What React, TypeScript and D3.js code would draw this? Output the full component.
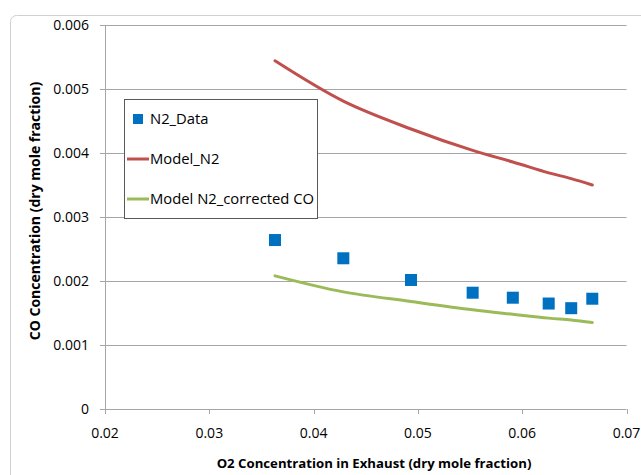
import React from "react";
import * as d3 from "d3";

const o2Values = [0.0363, 0.04285, 0.04934, 0.05525, 0.0591, 0.06254, 0.0647, 0.06672];
const n2Data = [0.00264, 0.002355, 0.002016, 0.001817, 0.001739, 0.001648, 0.001575, 0.001723];
const modelN2 = [0.00544, 0.00481, 0.004375, 0.00404, 0.00386, 0.00369, 0.0036, 0.0035];
const modelN2Corrected = [0.00208, 0.00183, 0.00168, 0.00155, 0.00148, 0.00142, 0.00139, 0.00135];
const xTicks = [0.02, 0.03, 0.04, 0.05, 0.06, 0.07];
const yTicks = [0, 0.001, 0.002, 0.003, 0.004, 0.005, 0.006];
const legendLabels = ["N2_Data", "Model_N2", "Model N2_corrected CO"];

const FONT = "'Open Sans', 'Liberation Sans', sans-serif";

export default function App() {
  const W = 641, H = 475;
  const x = d3.scaleLinear().domain([0.02, 0.07]).range([105, 626.5]);
  const y = d3.scaleLinear().domain([0, 0.006]).range([409, 25]);
  const line = d3.line<number>().x((_, i) => x(o2Values[i])).y((d) => y(d)).curve(d3.curveCatmullRom.alpha(0.5));
  const fmtX = (v: number) => v.toFixed(2);
  const fmtY = (v: number) => (v === 0 ? "0" : v.toFixed(3));
  return (
    <svg width={W} height={H} style={{ position: "absolute", left: 0, top: 0 }} fontFamily={FONT}>
      <rect x={0} y={0} width={W} height={H} fill="#fff" />
      <rect x={10.5} y={15.5} width={W + 20} height={H + 20} rx={6} fill="#fff" stroke="#d0d0d0" strokeWidth={1} />
      {yTicks.map((t) => (
        <line key={"g" + t} x1={x(0.02)} x2={x(0.07)} y1={Math.round(y(t)) + 0.5} y2={Math.round(y(t)) + 0.5} stroke="#a6a6a6" strokeWidth={1} />
      ))}
      <line x1={x(0.02) + 0.5} x2={x(0.02) + 0.5} y1={y(0.006)} y2={y(0)} stroke="#a6a6a6" />
      {yTicks.map((t) => (
        <g key={"yt" + t}>
          <line x1={x(0.02) - 5} x2={x(0.02)} y1={Math.round(y(t)) + 0.5} y2={Math.round(y(t)) + 0.5} stroke="#a6a6a6" />
          <text x={89} y={y(t)} dy="0.35em" textAnchor="end" fontSize={14} fill="#000">{fmtY(t)}</text>
        </g>
      ))}
      {xTicks.map((t) => (
        <g key={"xt" + t}>
          <line x1={Math.round(x(t)) + 0.5} x2={Math.round(x(t)) + 0.5} y1={y(0)} y2={y(0) + 5} stroke="#a6a6a6" />
          <text x={x(t)} y={438} textAnchor="middle" fontSize={14} fill="#000">{fmtX(t)}</text>
        </g>
      ))}
      <text x={374} y={468} textAnchor="middle" fontSize={13.2} fontWeight="bold" fill="#000">
        O2 Concentration in Exhaust (dry mole fraction)
      </text>
      <text transform={`translate(40,211) rotate(-90)`} textAnchor="middle" fontSize={14} fontWeight="bold" fill="#000">
        CO Concentration (dry mole fraction)
      </text>
      <path d={line(modelN2) || ""} fill="none" stroke="#C0504D" strokeWidth={3} strokeLinecap="round" />
      <path d={line(modelN2Corrected) || ""} fill="none" stroke="#9BBB59" strokeWidth={3} strokeLinecap="round" />
      {n2Data.map((v, i) => (
        <rect key={"p" + i} x={x(o2Values[i]) - 6} y={y(v) - 6} width={12} height={12} fill="#0070C0" />
      ))}
      <rect x={124.5} y={99.5} width={193} height={119} fill="#fff" stroke="#595959" strokeWidth={1} />
      <rect x={133} y={114} width={10} height={10} fill="#0070C0" />
      <line x1={127} x2={149} y1={159} y2={159} stroke="#C0504D" strokeWidth={3} />
      <line x1={127} x2={149} y1={199} y2={199} stroke="#9BBB59" strokeWidth={3} />
      {legendLabels.map((l, i) => (
        <text key={l} x={150} y={119 + i * 40} dy="0.35em" fontSize={14.8} fill="#000">{l}</text>
      ))}
    </svg>
  );
}
